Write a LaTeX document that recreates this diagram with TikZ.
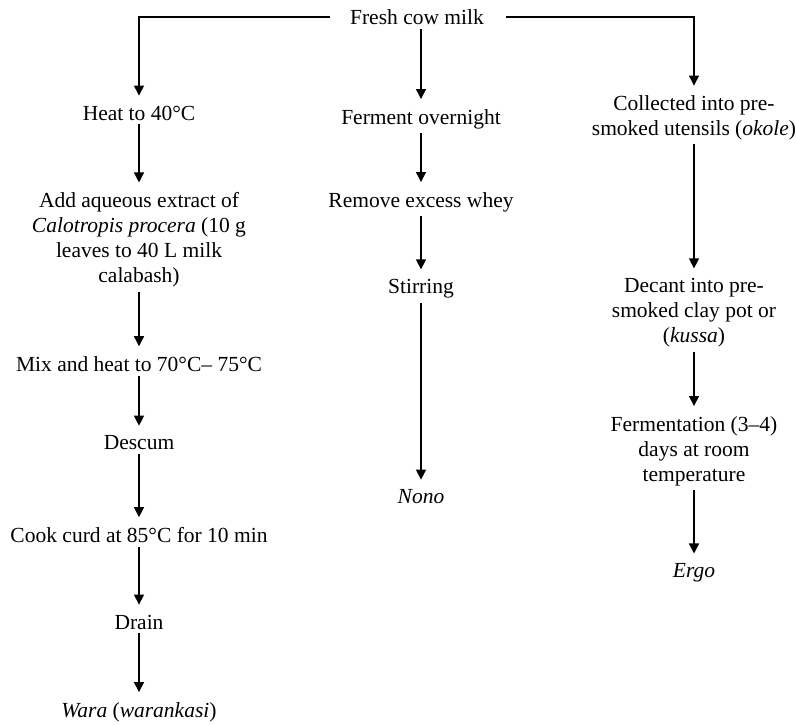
\documentclass[tikz,border=0pt]{standalone}
\usepackage{fontspec}
\setmainfont{Liberation Serif}
\usetikzlibrary{arrows.meta}

\begin{document}
\begin{tikzpicture}[x=1pt, y=-1pt,
  stage/.style={inner sep=4pt, align=center,
                font=\fontsize{21.5}{25}\selectfont},
  arrow/.style={-{Triangle[length=10pt, width=10pt]}, line width=1.3pt,
                shorten >=6pt},
]
  \useasboundingbox (0,0) rectangle (796,724);

  % source
  \node[stage] (milk) at (417,17) {Fresh cow milk};

  % left branch: wara
  \node[stage] (heat) at (139,113) {Heat to 40°C};
  \node[stage] (extract) at (139,240)
    {Add aqueous extract of\\ \textit{Calotropis procera} (10 g\\ leaves to 40 L milk\\ calabash)};
  \node[stage] (mix) at (139,364) {Mix and heat to 70°C-- 75°C};
  \node[stage] (descum) at (139,443) {Descum};
  \node[stage] (cook) at (139,535) {Cook curd at 85°C for 10 min};
  \node[stage] (drain) at (139,622) {Drain};
  \node[stage] (wara) at (139,712) {\textit{Wara} (\textit{warankasi})};

  % middle branch: nono
  \node[stage] (ferment) at (421,119) {Ferment overnight};
  \node[stage] (whey) at (421,202) {Remove excess whey};
  \node[stage] (stir) at (421,289) {Stirring};
  \node[stage] (nono) at (421,497) {\textit{Nono}};

  % right branch: ergo
  \node[stage] (collect) at (694,118) {Collected into pre-\\ smoked utensils (\textit{okole})};
  \node[stage] (decant) at (694,313) {Decant into pre-\\ smoked clay pot or\\ (\textit{kussa})};
  \node[stage] (ferm) at (694,451) {Fermentation (3--4)\\ days at room\\ temperature};
  \node[stage] (ergo) at (694,573) {\textit{Ergo}};

  \draw[arrow, shorten <=16pt] (milk.west) -| (heat.north);
  \draw[arrow, shorten <=18pt] (milk.east) -| (collect.north);
  \draw[arrow] (milk.south -| ferment.north) -- (ferment);

  \draw[arrow] (heat) -- (extract);
  \draw[arrow] (extract) -- (mix);
  \draw[arrow] (mix) -- (descum);
  \draw[arrow] (descum) -- (cook);
  \draw[arrow] (cook) -- (drain);
  \draw[arrow] (drain) -- (wara);

  \draw[arrow] (ferment) -- (whey);
  \draw[arrow] (whey) -- (stir);
  \draw[arrow] (stir) -- (nono);

  \draw[arrow] (collect) -- (decant);
  \draw[arrow] (decant) -- (ferm);
  \draw[arrow] (ferm) -- (ergo);
\end{tikzpicture}
\end{document}
